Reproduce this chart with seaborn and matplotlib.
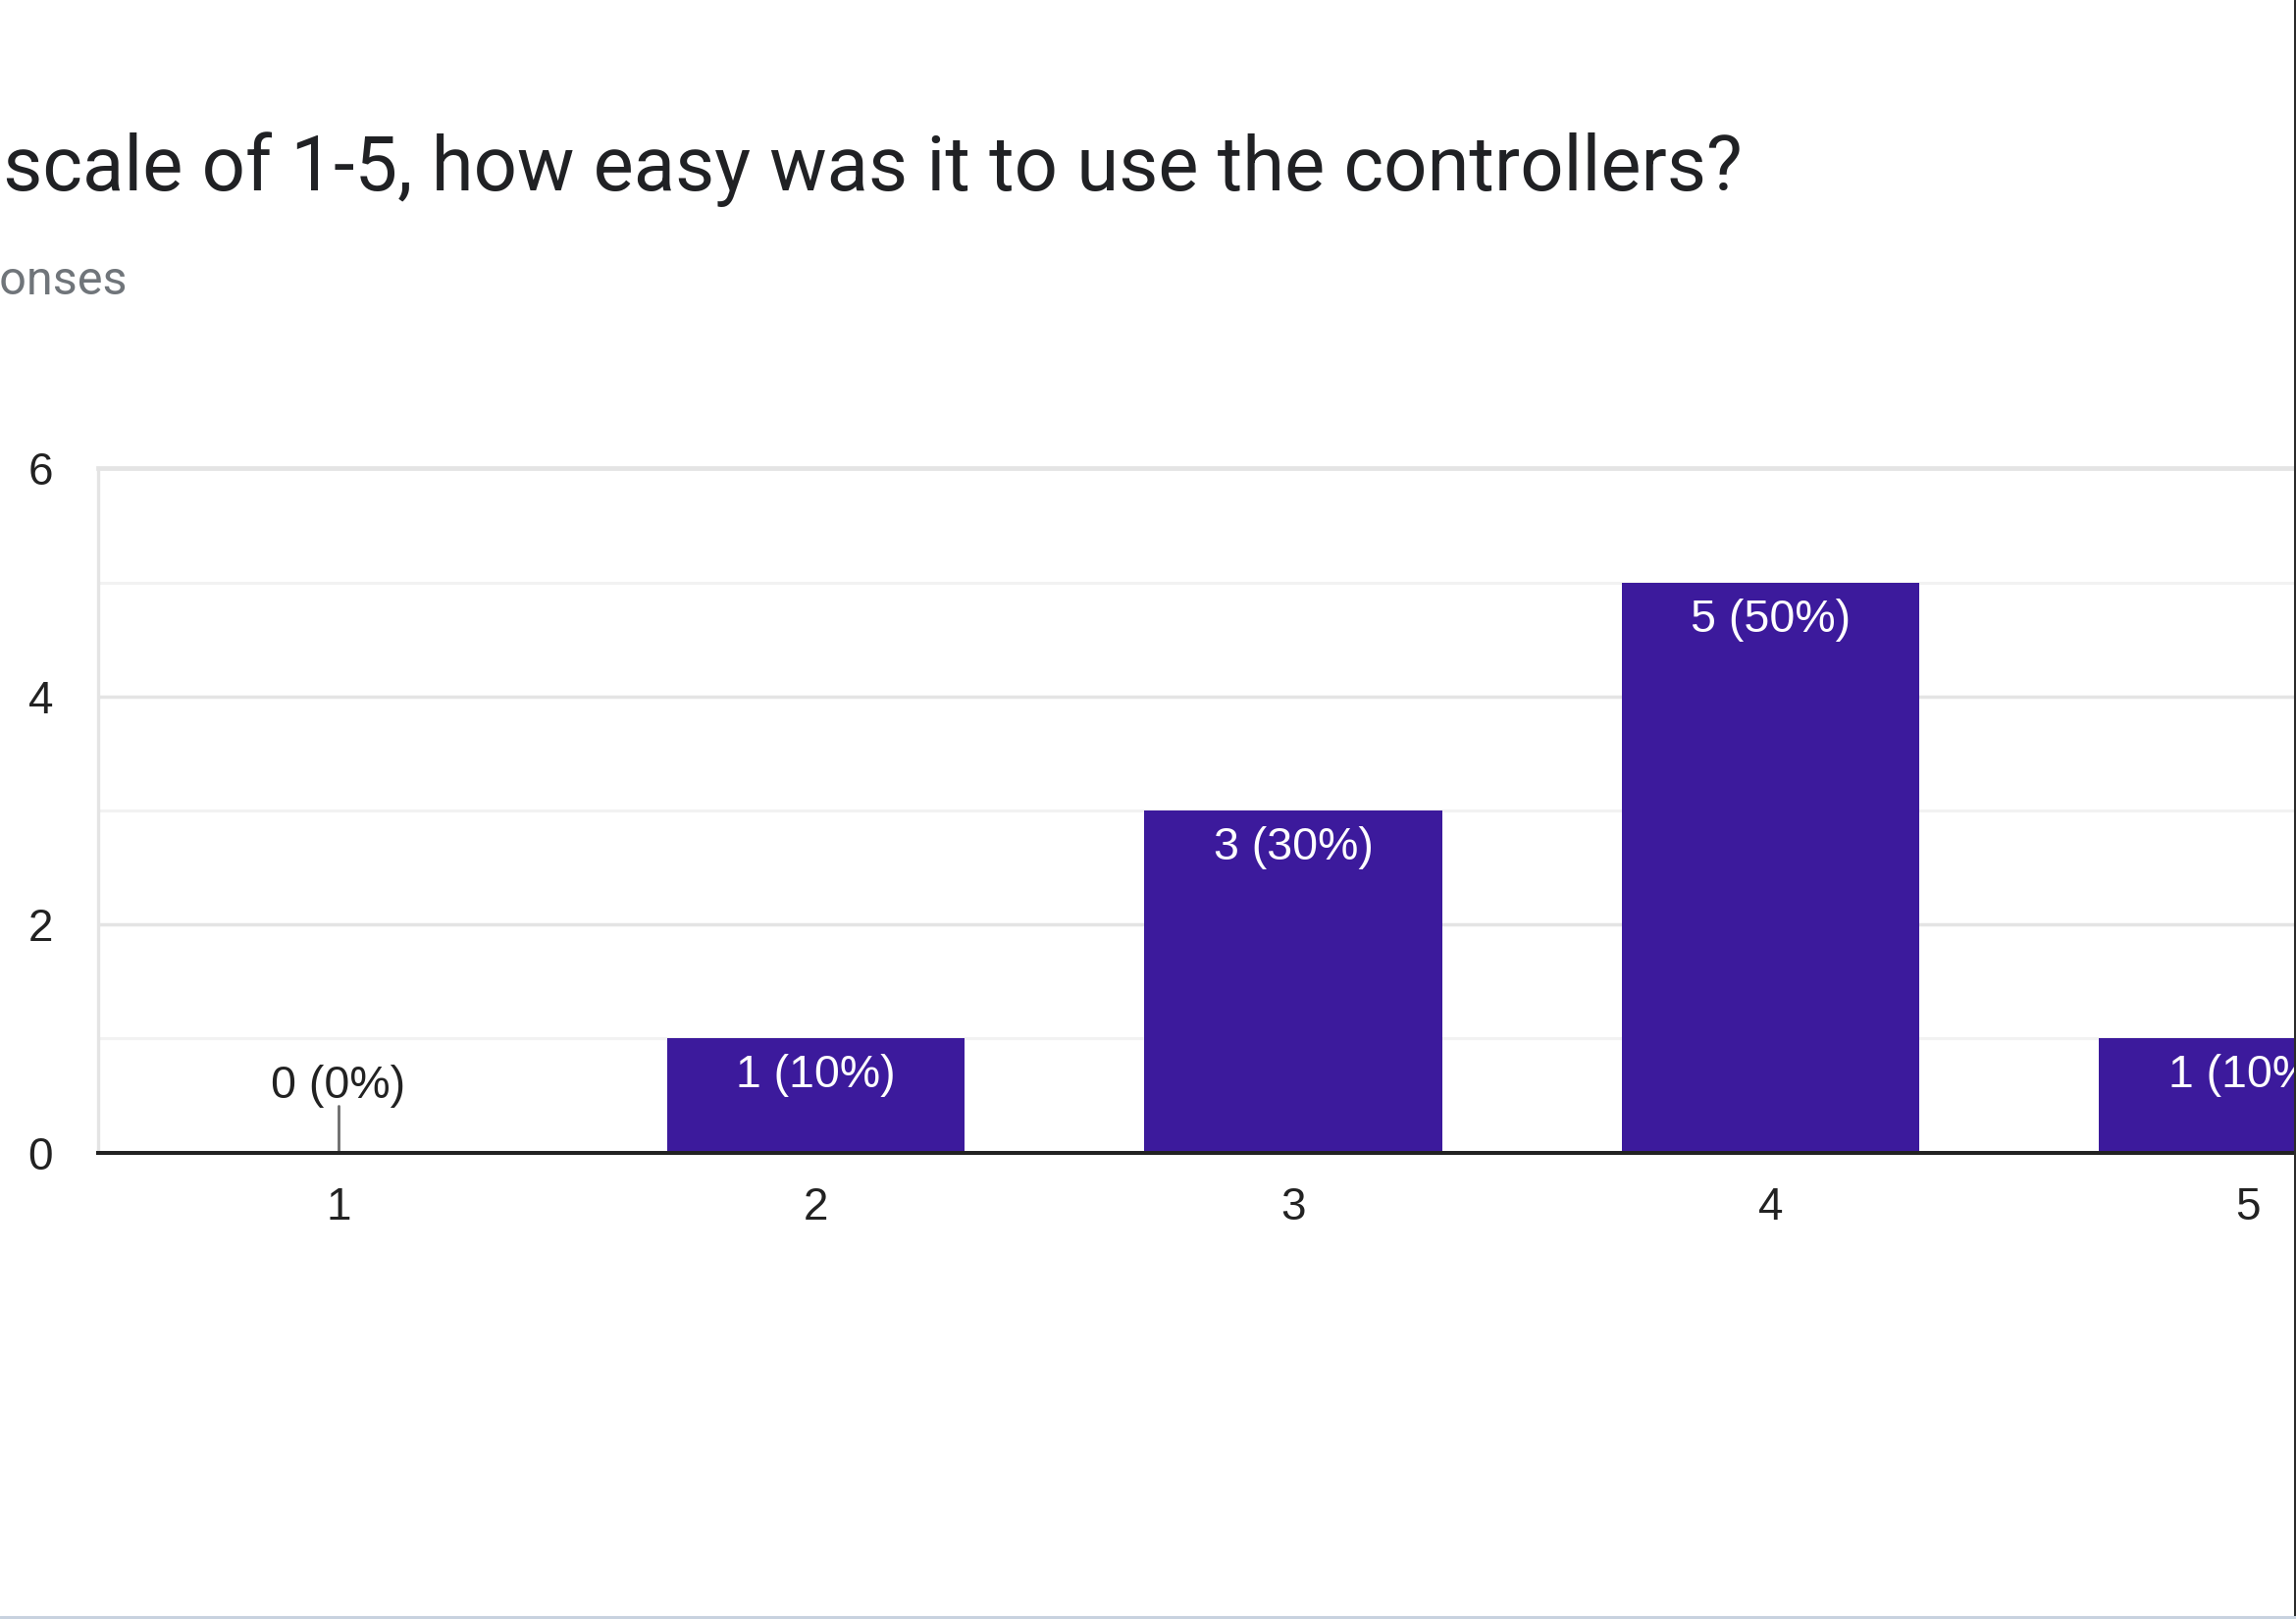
import matplotlib
matplotlib.use("Agg")
import matplotlib.pyplot as plt
from matplotlib.lines import Line2D
import seaborn as sns
import pandas as pd

# ---- data ----
categories = ["1", "2", "3", "4", "5"]
counts = [0, 1, 3, 5, 1]
title_text = "On a scale of 1-5, how easy was it to use the controllers?"
subtitle_text = "10 responses"
y_ticks = [0, 2, 4, 6]
y_minor_ticks = [1, 3, 5]

total = sum(counts)
percents = [round(100 * c / total) for c in counts]

# ---- style ----
BAR = "#3c1a9c"
TEXT = "#222222"
GRID = "#e4e4e4"
GRID_MINOR = "#f2f2f2"

sns.set_theme(style="white")
plt.rcParams["font.family"] = ["Liberation Sans", "DejaVu Sans"]

W, H = 2340, 1650
fig = plt.figure(figsize=(W / 100, H / 100), dpi=100)
fig.patch.set_facecolor("white")

slot = 486.5
ax_left, ax_bottom = 100 / W, 1 - 1174.5 / H
ax_w, ax_h = (slot * 5 + 1.75) / W, (1174.5 - 477.5) / H
ax = fig.add_axes([ax_left, ax_bottom, ax_w, ax_h])

df = pd.DataFrame({"rating": categories, "count": counts})
sns.barplot(data=df, x="rating", y="count", order=categories, color=BAR,
            saturation=1, width=0.624, ax=ax, edgecolor="none", linewidth=0)

ax.set_ylim(0, 6)
ax.set_xlim(-0.5 - 1.75 / slot, len(categories) - 0.5)
ax.set_yticks(y_ticks)
ax.set_yticks(y_minor_ticks, minor=True)
ax.set_xlabel("")
ax.set_ylabel("")

ax.grid(False)
ax.yaxis.grid(True, which="major", color=GRID, linewidth=2.5)
ax.yaxis.grid(True, which="minor", color=GRID_MINOR, linewidth=2.2)
ax.set_axisbelow(True)

ax.spines["right"].set_visible(False)
ax.spines["top"].set_color(GRID)
ax.spines["top"].set_linewidth(3.4)
ax.spines["left"].set_color(GRID)
ax.spines["left"].set_linewidth(2.4)
ax.spines["bottom"].set_color("#222222")
ax.spines["bottom"].set_linewidth(2.9)
ax.spines["bottom"].set_zorder(5)

ax.tick_params(axis="x", length=0, pad=25, labelsize=33, labelcolor=TEXT)
ax.tick_params(axis="y", which="both", length=0, pad=33, labelsize=33, labelcolor=TEXT)

# value labels
for i, (c, p) in enumerate(zip(counts, percents)):
    label = f"{c} ({p}%)"
    if c > 0:
        ax.annotate(label, xy=(i, c), xytext=(0, -36), textcoords="offset points",
                    ha="center", va="baseline", fontsize=33.5, color="white")
    else:
        ax.plot([i, i], [0, 0.41], color="#6b6b6b", linewidth=2.0, zorder=4)
        ax.annotate(label, xy=(i, c), xytext=(0, 40), textcoords="offset points",
                    ha="center", va="baseline", fontsize=33.5, color=TEXT)

# title & subtitle (cropped on the left like the screenshot)
fig.text(1776 / W, 1 - 194 / H, title_text, ha="right", va="baseline",
         fontsize=56, color="#202124", family=["Roboto", "DejaVu Sans"])
fig.text(130 / W, 1 - 300 / H, subtitle_text, ha="right", va="baseline",
         fontsize=35, color="#70757a", family=["Roboto", "DejaVu Sans"])

# window borders of the screenshot
fig.add_artist(Line2D([2338.5 / W, 2338.5 / W], [0, 1], transform=fig.transFigure,
                      color="#2b2b2b", linewidth=2.2))
fig.add_artist(Line2D([0, 1], [2 / H, 2 / H], transform=fig.transFigure,
                      color="#c8d2df", linewidth=2.2))

fig.savefig("out.png", dpi=100, facecolor="white")
